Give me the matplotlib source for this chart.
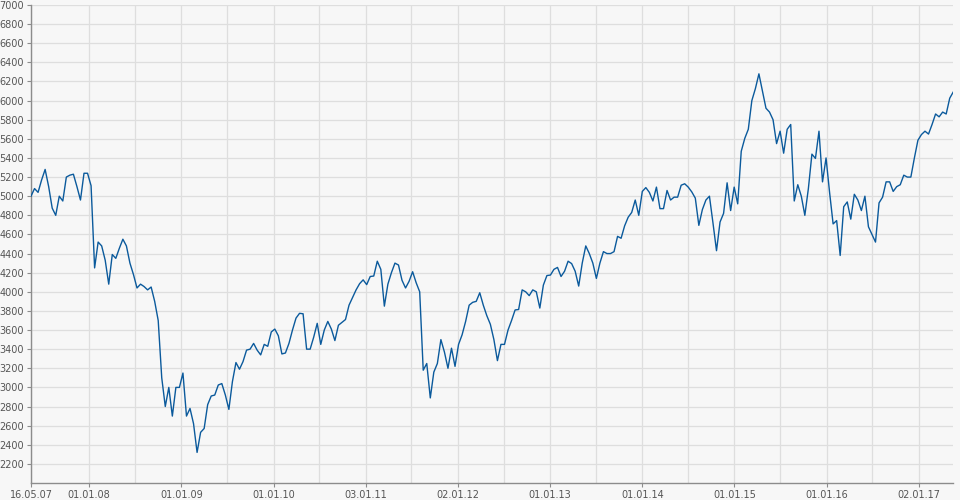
import pandas as pd
import matplotlib
matplotlib.use('Agg')
import matplotlib.pyplot as plt

# index level, one value every 14 days from 16.05.07
START = '2007-05-16'
values = [
    5000, 5080, 5040, 5170, 5280, 5100, 4875, 4800, 5000, 4950,
    5200, 5220, 5230, 5100, 4960, 5240, 5240, 5110, 4250, 4520,
    4480, 4330, 4080, 4390, 4350, 4455, 4550, 4480, 4300, 4180,
    4040, 4080, 4055, 4020, 4050, 3900, 3700, 3100, 2800, 3000,
    2700, 3000, 3000, 3150, 2700, 2780, 2620, 2320, 2530, 2570,
    2820, 2910, 2920, 3025, 3040, 2920, 2770, 3060, 3260, 3190,
    3270, 3390, 3400, 3460, 3390, 3340, 3450, 3430, 3580, 3610,
    3540, 3350, 3360, 3460, 3600, 3725, 3775, 3770, 3400, 3400,
    3525, 3670, 3450, 3600, 3690, 3610, 3490, 3650, 3680, 3710,
    3860, 3940, 4020, 4085, 4125, 4075, 4160, 4165, 4320, 4235,
    3850, 4080, 4200, 4300, 4280, 4120, 4040, 4110, 4210, 4095,
    4000, 3180, 3250, 2890, 3160, 3250, 3500, 3370, 3200, 3410,
    3220, 3450, 3550, 3690, 3860, 3890, 3900, 3990, 3860, 3750,
    3660, 3500, 3280, 3450, 3450, 3600, 3700, 3810, 3815, 4020,
    4000, 3960, 4020, 4000, 3830, 4070, 4170, 4175, 4235, 4255,
    4160, 4215, 4320, 4295, 4215, 4060, 4300, 4480, 4400, 4300,
    4140, 4300, 4420, 4400, 4400, 4420, 4580, 4560, 4690, 4780,
    4830, 4960, 4800, 5050, 5090, 5040, 4950, 5095, 4870, 4870,
    5060, 4960, 4990, 4990, 5115, 5130, 5095, 5045, 4980, 4695,
    4860, 4960, 5000, 4720, 4430, 4730, 4820, 5140, 4850, 5095,
    4920, 5470, 5605, 5700, 6000, 6125, 6280, 6100, 5920, 5880,
    5800, 5550, 5680, 5450, 5700, 5750, 4950, 5120, 5000, 4800,
    5080, 5440, 5395, 5680, 5150, 5400, 5040, 4710, 4745, 4380,
    4890, 4940, 4760, 5020, 4960, 4850, 5000, 4680, 4600, 4520,
    4930, 4990, 5150, 5150, 5050, 5100, 5120, 5220, 5200, 5200,
    5400, 5585, 5645, 5680, 5650, 5750, 5860, 5830, 5880, 5860,
    6025, 6090,
]

tick_dates = ['2007-05-16', '2008-01-01', '2009-01-01', '2010-01-01', '2011-01-03',
              '2012-01-02', '2013-01-01', '2014-01-01', '2015-01-01', '2016-01-01',
              '2017-01-02']
tick_labels = ['16.05.07', '01.01.08', '01.01.09', '01.01.10', '03.01.11',
               '02.01.12', '01.01.13', '01.01.14', '01.01.15', '01.01.16',
               '02.01.17']
mid_dates = ['2008-07-01', '2009-07-01', '2010-07-01', '2011-07-01', '2012-07-01',
             '2013-07-01', '2014-07-01', '2015-07-01', '2016-07-01']
y_ticks = list(range(2200, 7001, 200))

BG = '#f7f7f7'
GRID = '#dedede'
AXIS = '#8c8c8c'
TXT = '#555555'
LINE = '#0b5a9c'

dates = pd.date_range(START, periods=len(values), freq='14D')

fig = plt.figure(figsize=(9.6, 5), dpi=100, facecolor=BG)
ax = fig.add_axes([31 / 960, 17 / 500, 922 / 960, 478 / 500])
ax.set_facecolor(BG)

ax.plot(dates, values, color=LINE, linewidth=1.0, zorder=3)

ax.set_xlim(pd.Timestamp('2007-05-16'), pd.Timestamp('2017-05-16'))
ax.set_ylim(2000, 7000)

ax.set_xticks(pd.to_datetime(tick_dates))
ax.set_xticklabels(tick_labels)
ax.set_xticks(pd.to_datetime(mid_dates), minor=True)
ax.set_yticks(y_ticks)
ax.set_yticklabels([str(v) for v in y_ticks])

ax.grid(True, which='both', color=GRID, linewidth=0.9, zorder=0)
ax.set_axisbelow(True)

for s in ['top', 'right']:
    ax.spines[s].set_visible(False)
for s in ['left', 'bottom']:
    ax.spines[s].set_color(AXIS)
    ax.spines[s].set_linewidth(1.0)

ax.tick_params(axis='both', which='major', colors=AXIS, labelcolor=TXT,
               labelsize=7, length=3, width=0.8, pad=2)
ax.tick_params(axis='x', which='minor', length=0)

fig.savefig('out.png', dpi=100, facecolor=BG)
